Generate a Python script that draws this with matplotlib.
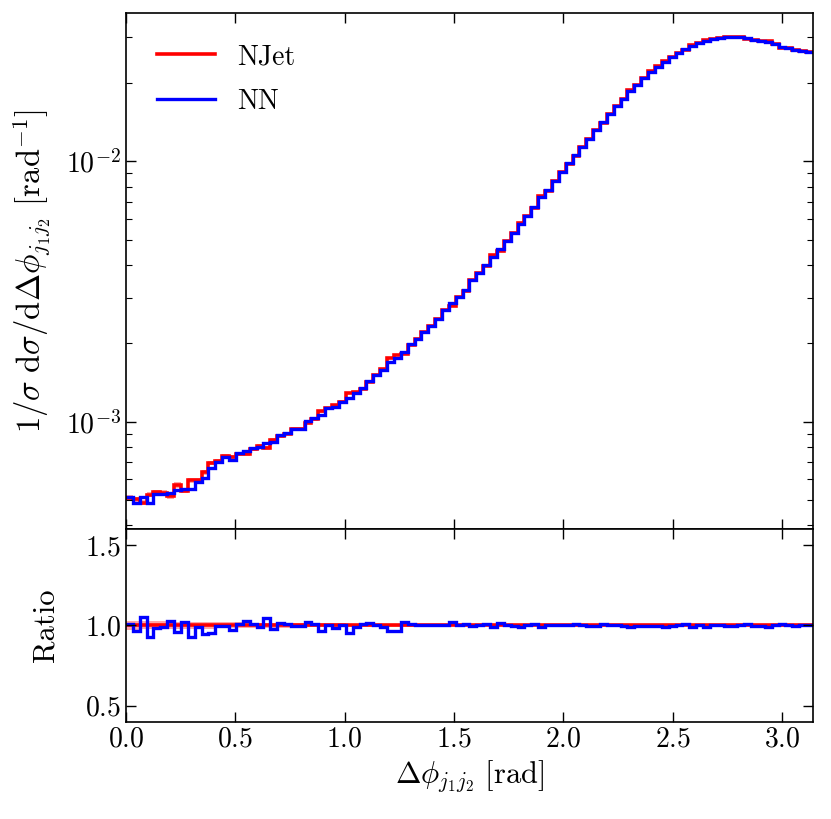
import numpy as np
import matplotlib
matplotlib.use('Agg')
from matplotlib import pyplot as plt

plt.rcParams['font.family'] = 'serif'
plt.rcParams['font.serif'] = ['cmr10']
plt.rcParams['mathtext.fontset'] = 'cm'
plt.rcParams['axes.formatter.use_mathtext'] = True

# 100 bins in delta phi between the two leading jets
edges = np.linspace(0, np.pi, 101)

# NN prediction, normalised distribution
nn = [
    5.15e-4, 4.86e-4, 5.15e-4, 4.86e-4, 5.26e-4, 5.26e-4, 5.31e-4, 5.47e-4, 5.53e-4, 5.53e-4,
    5.88e-4, 6.06e-4, 6.62e-4, 7.02e-4, 7.33e-4, 7.13e-4, 7.56e-4, 7.74e-4, 7.91e-4, 8.02e-4,
    8.26e-4, 8.33e-4, 8.89e-4, 9.03e-4, 9.37e-4, 9.37e-4, 1.009e-3, 1.031e-3, 1.061e-3, 1.126e-3,
    1.142e-3, 1.194e-3, 1.231e-3, 1.286e-3, 1.352e-3, 1.437e-3, 1.511e-3, 1.580e-3, 1.700e-3, 1.752e-3,
    1.858e-3, 1.983e-3, 2.078e-3, 2.217e-3, 2.337e-3, 2.480e-3, 2.686e-3, 2.851e-3, 3.021e-3, 3.206e-3,
    3.503e-3, 3.717e-3, 3.999e-3, 4.303e-3, 4.594e-3, 4.944e-3, 5.293e-3, 5.747e-3, 6.169e-3, 6.699e-3,
    7.278e-3, 7.763e-3, 8.431e-3, 9.130e-3, 9.833e-3, 1.058e-2, 1.139e-2, 1.220e-2, 1.320e-2, 1.421e-2,
    1.521e-2, 1.632e-2, 1.737e-2, 1.865e-2, 1.966e-2, 2.085e-2, 2.211e-2, 2.311e-2, 2.415e-2, 2.511e-2,
    2.602e-2, 2.696e-2, 2.775e-2, 2.842e-2, 2.893e-2, 2.953e-2, 2.979e-2, 2.998e-2, 3.005e-2, 2.998e-2,
    2.971e-2, 2.927e-2, 2.901e-2, 2.875e-2, 2.825e-2, 2.758e-2, 2.719e-2, 2.679e-2, 2.654e-2, 2.631e-2,
]

# NN / NJet ratio (lower panel)
ratio = [
    1.008, 0.967, 1.053, 0.926, 0.982, 0.988, 1.027, 0.957, 1.018, 0.930,
    0.988, 0.947, 0.955, 0.996, 0.996, 0.971, 1.008, 1.027, 1.008, 0.992,
    1.043, 0.980, 1.012, 1.006, 0.996, 0.996, 1.020, 1.008, 0.967, 1.000,
    0.984, 1.000, 0.955, 0.988, 1.008, 1.012, 1.002, 0.988, 0.967, 0.967,
    1.023, 1.008, 1.004, 1.000, 1.000, 1.004, 1.004, 1.023, 1.000, 1.008,
    0.996, 1.000, 1.008, 0.988, 1.012, 1.000, 0.996, 0.992, 1.000, 1.008,
    0.988, 1.004, 1.000, 1.000, 1.004, 1.008, 1.000, 0.996, 0.996, 1.008,
    1.000, 1.000, 0.996, 0.992, 0.996, 0.996, 0.996, 0.996, 0.992, 0.996,
    1.000, 1.006, 0.992, 1.000, 0.992, 1.000, 1.000, 0.996, 0.996, 1.000,
    1.006, 0.996, 0.996, 0.992, 1.000, 1.008, 1.000, 0.996, 1.000, 1.000,
]

# relative MC uncertainty on NJet (red band)
njet_rel_err = [
    0.026, 0.026, 0.025, 0.025, 0.024, 0.024, 0.023, 0.023, 0.022, 0.022,
    0.021, 0.021, 0.020, 0.019, 0.019, 0.018, 0.018, 0.017, 0.017, 0.016,
    0.016, 0.015, 0.015, 0.014, 0.014, 0.014, 0.013, 0.013, 0.013, 0.012,
    0.012, 0.012, 0.011, 0.011, 0.011, 0.010, 0.010, 0.010, 0.009, 0.009,
    0.009, 0.008, 0.008, 0.008, 0.008, 0.007, 0.007, 0.007, 0.007, 0.006,
    0.006, 0.006, 0.006, 0.006, 0.005, 0.005, 0.005, 0.005, 0.005, 0.005,
    0.004, 0.004, 0.004, 0.004, 0.004, 0.004, 0.004, 0.004, 0.003, 0.003,
    0.003, 0.003, 0.003, 0.003, 0.003, 0.003, 0.003, 0.003, 0.003, 0.003,
    0.003, 0.003, 0.003, 0.003, 0.003, 0.003, 0.003, 0.003, 0.003, 0.003,
    0.003, 0.003, 0.003, 0.003, 0.003, 0.003, 0.003, 0.003, 0.003, 0.003,
]

nn = np.array(nn)
ratio = np.array(ratio)
rel = np.array(njet_rel_err)
njet = nn / ratio

fig = plt.figure(figsize=(8.31, 8.19), dpi=100)
ax_top = fig.add_axes([0.1516, 0.3541, 0.8267, 0.6297])
ax_rat = fig.add_axes([0.1516, 0.1188, 0.8267, 0.2353], sharex=ax_top)

# upper panel
ax_top.stairs(njet * (1 + rel), edges, baseline=njet * (1 - rel),
              fill=True, color='red', alpha=0.35, lw=0)
ax_top.stairs(njet, edges, baseline=None, color='red', lw=2.6, label='NJet')
ax_top.stairs(nn, edges, baseline=None, color='blue', lw=2.4, label='NN')
ax_top.set_yscale('log')
ax_top.set_ylim(3.87e-4, 3.71e-2)
ax_top.set_xlim(0, np.pi)
ax_top.set_ylabel(r'$1/\sigma\ \mathrm{d}\sigma/\mathrm{d}\Delta\phi_{j_1j_2}\ [\mathrm{rad}^{-1}]$',
                  fontsize=23.5, labelpad=10)
ax_top.tick_params(labelbottom=False)
ax_top.legend(loc='upper left', frameon=False, fontsize=20, handlelength=2.1,
              labelspacing=0.65, borderaxespad=0.7)

# ratio panel
ax_rat.stairs(1 + rel, edges, baseline=1 - rel, fill=True,
              color='red', alpha=0.35, lw=0)
ax_rat.stairs(np.ones_like(nn), edges, baseline=None, color='red', lw=2.6)
ax_rat.stairs(ratio, edges, baseline=None, color='blue', lw=2.4)
ax_rat.set_ylim(0.4, 1.6)
ax_rat.set_yticks([0.5, 1.0, 1.5])
ax_rat.set_xticks([0.0, 0.5, 1.0, 1.5, 2.0, 2.5, 3.0])
ax_rat.set_ylabel('Ratio', fontsize=22, labelpad=18)
ax_rat.set_xlabel(r'$\Delta\phi_{j_1j_2}\ [\mathrm{rad}]$', fontsize=22)

for ax in (ax_top, ax_rat):
    ax.tick_params(which='both', direction='in', top=True, right=True,
                   labelsize=20)
    ax.tick_params(which='major', length=7, width=1)
    ax.tick_params(which='minor', length=4, width=0.8)
    for s in ax.spines.values():
        s.set_linewidth(1.2)

fig.savefig('out.png', dpi=100)
